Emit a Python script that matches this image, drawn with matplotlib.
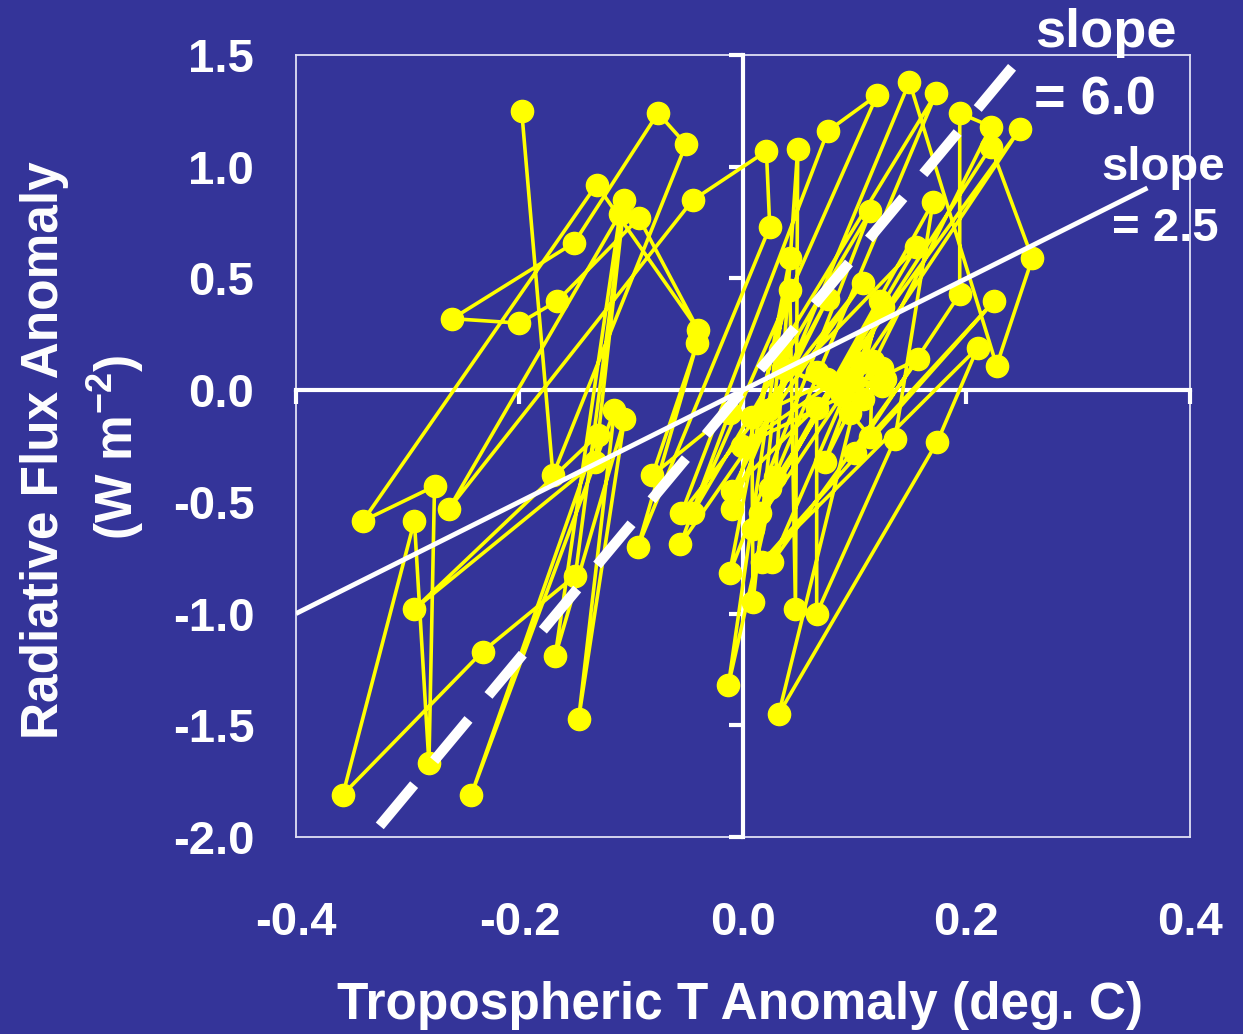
import matplotlib.pyplot as plt

plt.rcParams['font.family'] = ['Liberation Sans', 'DejaVu Sans']
plt.rcParams['font.weight'] = 'bold'
plt.rcParams['mathtext.fontset'] = 'custom'
plt.rcParams['mathtext.rm'] = 'Liberation Sans:bold'
plt.rcParams['mathtext.bf'] = 'Liberation Sans:bold'

BG = '#343499'

# monthly anomalies, in the order they are joined
temp_anom = [-0.198, -0.170, -0.051, -0.076, -0.151, -0.260, -0.200, -0.166, -0.093, -0.040,
             -0.131, -0.340, -0.276, -0.281, -0.294, -0.358, -0.233, -0.150, -0.106, -0.132,
             -0.294, -0.130, -0.243, -0.115, -0.147, -0.106, -0.168, -0.110, -0.263, -0.045,
             0.021, 0.024, -0.094, -0.041, -0.081, -0.012, -0.056, 0.107, -0.055, 0.076,
             0.120, -0.045, 0.114, -0.012, 0.042, -0.013, 0.029, 0.049, 0.047, 0.042,
             -0.010, 0.149, 0.227, 0.259, 0.222, 0.024, 0.173, 0.033, 0.009, 0.008,
             0.155, 0.015, 0.170, 0.136, 0.066, 0.066, 0.248, 0.009, 0.123, 0.032,
             0.174, 0.210, 0.017, 0.225, 0.100, 0.194, 0.194, 0.222, 0.073, 0.125,
             0.026, 0.157, -0.001, 0.105, -0.010, 0.076, 0.022, 0.116, 0.114, 0.066,
             0.096, 0.124, 0.089, 0.036, 0.107, 0.075, 0.124, 0.096, 0.127]
flux_anom = [1.25, -0.38, 1.10, 1.24, 0.66, 0.32, 0.30, 0.40, 0.77, 0.27,
             0.92, -0.585, -0.43, -1.67, -0.585, -1.81, -1.17, -0.83, 0.85, -0.32,
             -0.98, -0.20, -1.81, -0.09, -1.47, -0.13, -1.19, 0.79, -0.53, 0.85,
             1.07, 0.73, -0.70, 0.21, -0.38, -0.10, -0.69, 0.48, -0.55, 1.16,
             1.32, -0.55, 0.80, -0.82, 0.59, -1.32, -0.39, 1.08, -0.98, 0.45,
             -0.53, 1.38, 0.11, 0.59, 1.09, -0.44, 1.33, 0.18, -0.95, -0.12,
             0.64, -0.55, 0.84, -0.22, -1.00, -0.08, 1.17, -0.62, 0.40, -1.45,
             -0.23, 0.19, -0.77, 0.40, -0.28, 0.43, 1.24, 1.18, -0.32, 0.37,
             -0.77, 0.14, -0.25, 0.12, -0.45, 0.41, -0.09, 0.13, -0.21, 0.08,
             -0.10, 0.10, -0.02, 0.10, -0.04, 0.05, 0.02, 0.05, 0.05]

# fitted slopes
slope_short = 2.5
short_x = [-0.4, 0.362]
slope_long = 6.0
long_x = [-0.325, 0.245]

xticks = [-0.4, -0.2, 0.0, 0.2, 0.4]
yticks = [1.5, 1.0, 0.5, 0.0, -0.5, -1.0, -1.5, -2.0]

fig = plt.figure(figsize=(12.43, 10.34), dpi=100, facecolor=BG)
pos = [0.2381, 0.1905, 0.7192, 0.7563]
ax = fig.add_axes(pos, facecolor=BG)
ax.set_xlim(-0.4, 0.4)
ax.set_ylim(-2.0, 1.5)
for s in ax.spines.values():
    s.set_color('#e0e0f4')
    s.set_linewidth(1.3)
ax.set_xticks(xticks)
ax.set_xticklabels(['%.1f' % v for v in xticks])
ax.set_yticks(yticks)
ax.set_yticklabels(['%.1f' % v for v in yticks])
ax.tick_params(axis='both', length=0, colors='white', labelsize=34)
ax.tick_params(axis='x', pad=46)
ax.tick_params(axis='y', pad=30)

# thick axes through the origin
ax2 = fig.add_axes(pos, facecolor='none', sharex=ax, sharey=ax)
for name in ['top', 'right']:
    ax2.spines[name].set_visible(False)
ax2.spines['left'].set_position(('data', 0))
ax2.spines['bottom'].set_position(('data', 0))
for name in ['left', 'bottom']:
    ax2.spines[name].set_color('white')
    ax2.spines[name].set_linewidth(3)
ax2.tick_params(axis='both', direction='out', length=10, width=3, color='white',
                labelleft=False, labelbottom=False)

ax2.plot(temp_anom, flux_anom, color='#ffff00', lw=2.6, marker='o', ms=16,
         mec='#ffff00', mfc='#ffff00', zorder=3)

ax2.plot(short_x, [slope_short * v for v in short_x], color='white', lw=3.5,
         solid_capstyle='butt', zorder=4)
ax2.plot(long_x, [slope_long * v for v in long_x], color='white', lw=7.5,
         dashes=(5.15, 3.0), dash_capstyle='butt', zorder=4)

fig.text(0.890, 0.968, 'slope', color='white', fontsize=39, ha='center', va='center')
fig.text(0.881, 0.903, '= 6.0', color='white', fontsize=39, ha='center', va='center')
fig.text(0.9355, 0.838, 'slope', color='white', fontsize=34, ha='center', va='center')
fig.text(0.9375, 0.779, '= 2.5', color='white', fontsize=34, ha='center', va='center')

fig.text(0.595, 0.028, 'Tropospheric T Anomaly (deg. C)', color='white', fontsize=37,
         ha='center', va='center')
fig.text(0.036, 0.565, 'Radiative Flux Anomaly', color='white', fontsize=37,
         rotation=90, ha='center', va='center')
fig.text(0.093, 0.567, r'(W m$^{\mathbf{-2}}$)', color='white', fontsize=37,
         rotation=90, ha='center', va='center')

fig.savefig('out.png', dpi=100, facecolor=BG)
